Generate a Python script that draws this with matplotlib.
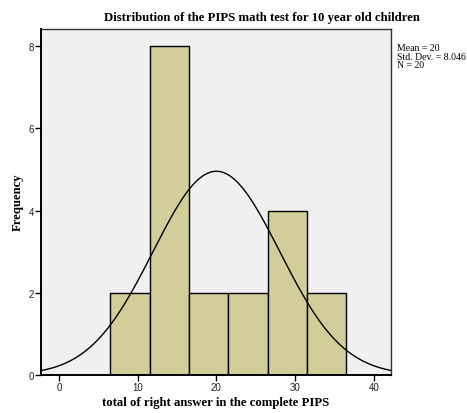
import numpy as np
import matplotlib
matplotlib.use("Agg")
import matplotlib.pyplot as plt

# Histogram of PIPS math scores (bin edges and counts)
bin_edges = [6.5, 11.5, 16.5, 21.5, 26.5, 31.5, 36.5]
counts = [2, 8, 2, 2, 4, 2]
mean = 20
std_dev = 8.046
n_total = 20
x_ticks = [0, 10, 20, 30, 40]
y_ticks = [0, 2, 4, 6, 8]

serif = ["Liberation Serif", "DejaVu Serif"]
sans = ["Liberation Sans", "DejaVu Sans"]

fig = plt.figure(figsize=(4.67, 4.14), dpi=100)
ax = fig.add_axes([41 / 467, 1 - 376 / 414, 350 / 467, 346 / 414])
ax.set_facecolor("#F0F0F0")

widths = np.diff(bin_edges)
ax.bar(bin_edges[:-1], counts, width=widths, align="edge",
       color="#D3CE99", edgecolor="#000000", linewidth=1.0, zorder=2)

# Normal curve scaled to the histogram
bw = widths[0]
xs = np.linspace(-2.3, 42.3, 400)
ys = n_total * bw / (std_dev * np.sqrt(2 * np.pi)) * np.exp(-0.5 * ((xs - mean) / std_dev) ** 2)
ax.plot(xs, ys, color="black", linewidth=1.0, zorder=3)

ax.set_xlim(-2.3, 42.2)
ax.set_ylim(0, 8.42)
ax.set_xticks(x_ticks)
ax.set_yticks(y_ticks)
ax.tick_params(direction="out", length=4, width=1, labelsize=7, pad=1,
               labelcolor="#222222")
for lbl in ax.get_xticklabels() + ax.get_yticklabels():
    lbl.set_family(sans)

for side in ["left", "bottom"]:
    ax.spines[side].set_linewidth(1.4)
    ax.spines[side].set_color("black")
for side in ["top", "right"]:
    ax.spines[side].set_linewidth(1.0)
    ax.spines[side].set_color("#333333")

fig.text(262 / 467, 1 - 18 / 414,
         "Distribution of the PIPS math test for 10 year old children",
         family=serif, fontweight="bold", fontsize=9.2, ha="center", va="center")
fig.text(216 / 467, 1 - 403 / 414, "total of right answer in the complete PIPS",
         family=serif, fontweight="bold", fontsize=9.2, ha="center", va="center")
fig.text(18 / 467, 1 - 202 / 414, "Frequency", family=serif, fontweight="bold",
         fontsize=9.2, ha="center", va="center", rotation=90)

fig.text(397 / 467, 1 - 44 / 414,
         f"Mean = {mean}\nStd. Dev. = {std_dev}\nN = {n_total}",
         family=serif, fontsize=7, va="top", ha="left", linespacing=0.95)

fig.savefig("out.png", dpi=100)
